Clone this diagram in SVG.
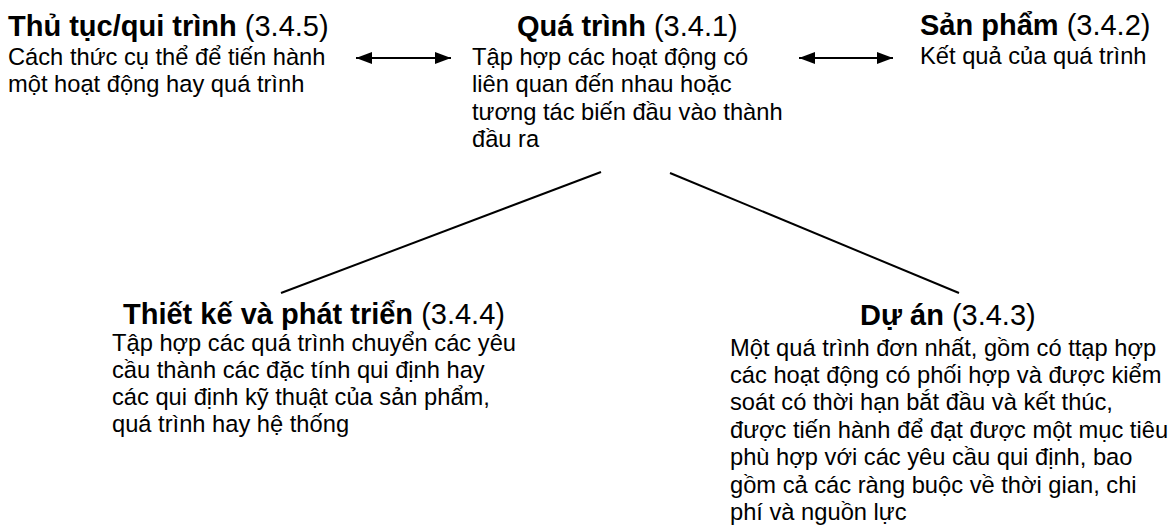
<svg xmlns="http://www.w3.org/2000/svg" width="1168" height="527" viewBox="0 0 1168 527">
<style>
text{font-family:"Liberation Sans",Arial,sans-serif;fill:#000}
.t{font-size:29px}
.b{font-weight:bold}
.d{font-size:23.7px}
.c{stroke:#000;stroke-width:2;fill:none}
</style>
<defs>
<marker id="ah" markerUnits="userSpaceOnUse" markerWidth="18" markerHeight="14" refX="16" refY="6" orient="auto-start-reverse">
<path d="M0,0 L16,6 L0,12 Z" fill="#000"/>
</marker>
</defs>
<rect width="1168" height="527" fill="#fff"/>
<g id="connectors">
<line class="c" x1="356" y1="58" x2="451" y2="58" marker-start="url(#ah)" marker-end="url(#ah)"/>
<line class="c" x1="799" y1="58" x2="893" y2="58" marker-start="url(#ah)" marker-end="url(#ah)"/>
<line class="c" x1="601" y1="172" x2="281" y2="293"/>
<line class="c" x1="670" y1="173" x2="959" y2="293"/>
</g>
<g id="thu-tuc">
<text class="t" x="8" y="36"><tspan class="b">Thủ tục/qui trình</tspan> (3.4.5)</text>
<text class="d" x="8" y="65">Cách thức cụ thể để tiến hành</text>
<text class="d" x="8" y="92">một hoạt động hay quá trình</text>
</g>
<g id="qua-trinh">
<text class="t" x="517" y="36"><tspan class="b">Quá trình</tspan> (3.4.1)</text>
<text class="d" x="472" y="65">Tập hợp các hoạt động có</text>
<text class="d" x="472" y="92">liên quan đến nhau hoặc</text>
<text class="d" x="472" y="120">tương tác biến đầu vào thành</text>
<text class="d" x="472" y="147">đầu ra</text>
</g>
<g id="san-pham">
<text class="t" x="920" y="35"><tspan class="b">Sản phẩm</tspan> (3.4.2)</text>
<text class="d" x="920" y="64">Kết quả của quá trình</text>
</g>
<g id="thiet-ke">
<text class="t" x="123" y="324"><tspan class="b">Thiết kế và phát triển</tspan> (3.4.4)</text>
<text class="d" x="112" y="351">Tập hợp các quá trình chuyển các yêu</text>
<text class="d" x="112" y="378">cầu thành các đặc tính qui định hay</text>
<text class="d" x="112" y="405">các qui định kỹ thuật của sản phẩm,</text>
<text class="d" x="112" y="432">quá trình hay hệ thống</text>
</g>
<g id="du-an">
<text class="t" x="860" y="325"><tspan class="b">Dự án</tspan> (3.4.3)</text>
<text class="d" x="730" y="356">Một quá trình đơn nhất, gồm có ttạp hợp</text>
<text class="d" x="730" y="383">các hoạt động có phối hợp và được kiểm</text>
<text class="d" x="730" y="410">soát có thời hạn bắt đầu và kết thúc,</text>
<text class="d" x="730" y="438">được tiến hành để đạt được một mục tiêu</text>
<text class="d" x="730" y="465">phù hợp với các yêu cầu qui định, bao</text>
<text class="d" x="730" y="493">gồm cả các ràng buộc về thời gian, chi</text>
<text class="d" x="730" y="520">phí và nguồn lực</text>
</g>
</svg>
